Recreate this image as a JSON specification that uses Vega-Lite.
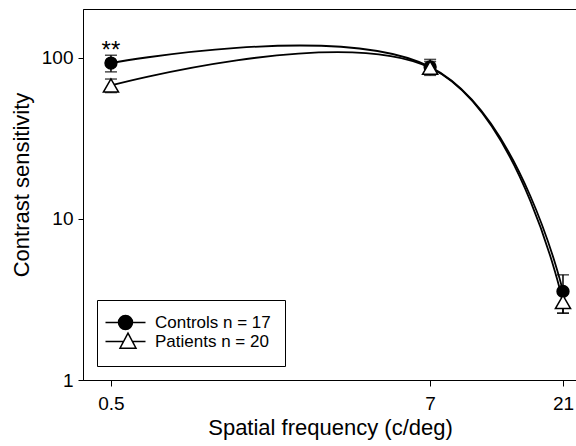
{
  "$schema": "https://vega.github.io/schema/vega-lite/v6.json",
  "width": 494,
  "height": 371,
  "autosize": "none",
  "padding": {"left": 83, "top": 9, "right": 0, "bottom": 66},
  "background": "white",
  "config": {
    "font": "Liberation Sans",
    "view": {"stroke": "black", "strokeWidth": 1},
    "axis": {
      "grid": false,
      "domainColor": "black",
      "tickColor": "black",
      "labelColor": "black",
      "titleColor": "black",
      "labelFont": "Liberation Sans",
      "titleFont": "Liberation Sans",
      "titleFontWeight": "normal",
      "labelFontSize": 19,
      "titleFontSize": 22,
      "domainWidth": 1,
      "tickWidth": 1
    }
  },
  "data": {
    "values": [
      {"freq": 0.5, "group": "Controls", "mean": 93, "lo": 82, "hi": 104},
      {"freq": 7, "group": "Controls", "mean": 88, "lo": 78, "hi": 98},
      {"freq": 21, "group": "Controls", "mean": 3.55, "lo": 2.6, "hi": 4.5},
      {"freq": 0.5, "group": "Patients", "mean": 67.5, "lo": 61, "hi": 74},
      {"freq": 7, "group": "Patients", "mean": 87, "lo": 79, "hi": 95},
      {"freq": 21, "group": "Patients", "mean": 3.05, "lo": 2.6, "hi": 3.5}
    ]
  },
  "encoding": {
    "x": {
      "field": "freq",
      "type": "quantitative",
      "scale": {"type": "log", "domain": [0.3968, 23.58], "nice": false},
      "axis": {
        "values": [0.5, 7, 21],
        "format": "~g",
        "title": "Spatial frequency (c/deg)",
        "tickSize": 6,
        "labelPadding": 8,
        "titlePadding": 4
      }
    }
  },
  "layer": [
    {
      "mark": {"type": "line", "interpolate": "cardinal", "tension": -0.2, "color": "black", "strokeWidth": 1.8},
      "encoding": {
        "y": {
          "field": "mean",
          "type": "quantitative",
          "scale": {"type": "log", "domain": [1, 201.5], "nice": false},
          "axis": {
            "values": [1, 10, 100],
            "format": "~g",
            "title": "Contrast sensitivity",
            "tickSize": 5,
            "labelPadding": 5,
            "titlePadding": 8,
            "titleY": 175.5
          }
        },
        "detail": {"field": "group"}
      }
    },
    {
      "mark": {"type": "rule", "color": "black", "strokeWidth": 1.5},
      "encoding": {
        "y": {"field": "lo", "type": "quantitative"},
        "y2": {"field": "hi"}
      }
    },
    {
      "mark": {"type": "tick", "orient": "horizontal", "color": "black", "size": 12, "thickness": 1.5},
      "encoding": {"y": {"field": "hi", "type": "quantitative"}}
    },
    {
      "mark": {"type": "tick", "orient": "horizontal", "color": "black", "size": 12, "thickness": 1.5},
      "encoding": {"y": {"field": "lo", "type": "quantitative"}}
    },
    {
      "transform": [{"filter": "datum.group === 'Controls'"}],
      "mark": {"type": "point", "shape": "circle", "size": 140, "filled": true, "fill": "black", "stroke": "black", "strokeWidth": 1.5, "opacity": 1},
      "encoding": {"y": {"field": "mean", "type": "quantitative"}}
    },
    {
      "transform": [{"filter": "datum.group === 'Patients'"}],
      "mark": {"type": "point", "shape": "triangle-up", "size": 230, "filled": true, "fill": "white", "stroke": "black", "strokeWidth": 1.5, "opacity": 1},
      "encoding": {"y": {"field": "mean", "type": "quantitative"}}
    },
    {
      "transform": [{"filter": "datum.group === 'Controls' && datum.freq === 0.5"}],
      "mark": {"type": "text", "text": "**", "fontSize": 24, "dy": -5, "baseline": "alphabetic", "color": "black"},
      "encoding": {"y": {"field": "mean", "type": "quantitative"}}
    },
    {
      "transform": [{"filter": "false"}],
      "mark": {"type": "point", "filled": true, "strokeWidth": 1.5, "opacity": 1},
      "encoding": {
        "y": {"field": "mean", "type": "quantitative"},
        "shape": {
          "field": "group",
          "type": "nominal",
          "scale": {
            "domain": ["Controls", "Patients"],
            "range": [
              "M-2.8,0H-0.2M2.6,0H5.2M-0.2,0A1.4,1.4 0 1,0 2.6,0A1.4,1.4 0 1,0 -0.2,0Z",
              "M-2.8,0H0.815M2.585,0H5.2M1.7,-1.66L3.3,1.34L0.1,1.34Z"
            ]
          },
          "legend": {
            "orient": "none",
            "legendX": 14,
            "legendY": 291,
            "title": null,
            "padding": 14,
            "strokeColor": "black",
            "fillColor": "white",
            "symbolSize": 100,
            "symbolStrokeWidth": 1.5,
            "symbolOpacity": 1,
            "labelFont": "Liberation Sans",
            "labelFontSize": 17,
            "labelColor": "black",
            "labelOffset": 27,
            "rowPadding": -5,
            "labelExpr": "datum.value === 'Controls' ? 'Controls n = 17' : 'Patients n = 20'"
          }
        },
        "fill": {
          "field": "group",
          "type": "nominal",
          "scale": {"domain": ["Controls", "Patients"], "range": ["black", "white"]}
        },
        "stroke": {
          "field": "group",
          "type": "nominal",
          "scale": {"domain": ["Controls", "Patients"], "range": ["black", "black"]}
        }
      }
    }
  ]
}
